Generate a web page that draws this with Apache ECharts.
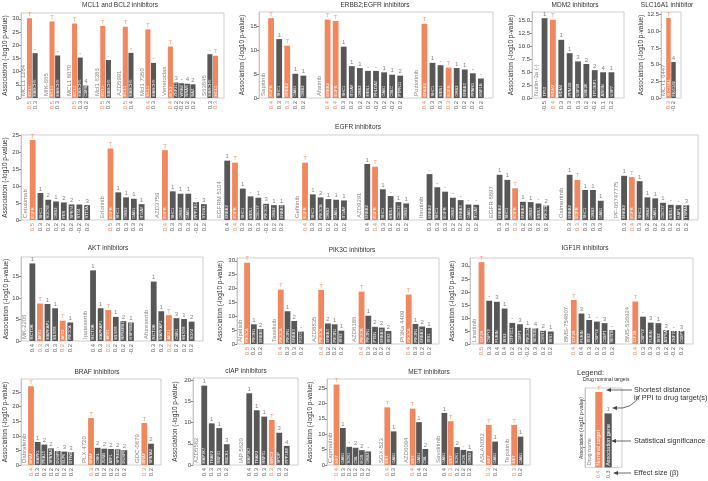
<!DOCTYPE html>
<html><head><meta charset="utf-8">
<script src="https://cdn.jsdelivr.net/npm/echarts@6/dist/echarts.min.js"></script>
<style>html,body{margin:0;padding:0;background:#fff}#c{width:708px;height:481px}</style>
</head><body><div id="c"></div>
<script>
// ---------------- DATA ----------------
// MCL1 and BCL2 inhibitors
const mclDrugs = ['MCL1 1284','MIK-665','MCL1 8070','Mcl1 6386','AZD5991','Mcl1 7350','Venetoclax','S63845'];
const mclGenes = [['MCL1','MARCH5'],['MCL1','MARCH5'],['MCL1','MARCH5','CBFB'],['MCL1','MARCH5'],['MCL1','MARCH5'],['MCL1','MARCH5'],['BCL2','ZNF217','WSB2','NRAS','BAX'],['MARCH5','MCL1']];
const mclValues = [[30.2,17.0],[29.0,16.1],[28.2,15.3,4.7],[27.3,14.4],[27.0,17.1],[26.0,13.3],[19.5,5.9,5.6,5.4,5.2],[16.6,16.0]];
const mclBeta = [['0.5','0.3'],['0.5','0.3'],['0.5','0.3','-0.2'],['0.5','0.3'],['0.5','0.4'],['0.4','0.3'],['0.4','-0.2','-0.2','0.2','0.2'],['0.3','0.3']];
const mclDist = [['T','-'],['T','-'],['T','-','4'],['T','-'],['T','-'],['T','-'],['T','3','-','4','2'],['-','T']];

// ERBB2;EGFR inhibitors
const erbDrugs = ['Sapitinib','Afatinib','Poziotinib'];
const erbGenes = [['EGFR','SHC1','ERBB2','GAB1','GRB2'],['ERBB2','EGFR','SHC1','ITGAV','GRB2','MEN1','PHLDA3','GAB1','CBLC','PTPN11'],['ERBB2','SHC1','MEN1','EGFR','GRB2','ERBB3','PPARG','HNF1B']];
const erbValues = [[16.8,12.4,11.0,5.1,4.7],[16.5,16.2,10.8,6.7,6.3,5.7,5.7,5.4,4.9,4.7],[15.6,7.4,6.9,6.4,6.3,6.0,5.2,4.1]];
const erbBeta = [['0.4','0.3','0.3','0.2','0.2'],['0.4','0.4','0.3','0.2','0.2','0.2','-0.2','0.2','-0.2','0.2'],['0.4','0.3','0.3','0.3','0.2','0.2','0.2','0.2']];
const erbDist = [['T','1','T','1','1'],['T','T','1','1','1','-','-','1','1','2'],['T','1','-','T','1','1','-','-']];

// MDM2 inhibitors
const mdmDrugs = ['Nutlin-3a (-)'];
const mdmGenes = [['TP53','MDM2','MDM4','PPM1D','USP28','UBE2K','TP53BP1','ATMIN','USP7']];
const mdmValues = [[15.5,15.2,11.3,8.7,7.1,6.6,5.4,5.0,5.0]];
const mdmBeta = [['-0.5','0.4','0.3','0.3','0.3','0.2','-0.2','0.1','0.2']];
const mdmDist = [['1','T','1','1','3','2','2','4','1']];

// SLC16A1 inhibitor
const slcDrugs = ['MCT1 6447'];
const slcGenes = [['SLC16A1','FBXO42']];
const slcValues = [[12.0,5.4]];
const slcBeta = [['0.3','-0.2']];
const slcDist = [['T','4']];

// EGFR inhibitors
const egfDrugs = ['Cetuximab','Erlotinib','AZD3759','EGFRM 5104','Gefitinib','AZD9291','Ibrutinib','EGFR 8897','Osimertinib','PF-06747775'];
const egfGenes = [
  ['EGFR','SHC1','SOCS5','GRB2','FES','SPRY4','STX4','STT3A'],
  ['EGFR','SHC1','GRB2','GAB1','ITGAV'],
  ['EGFR','SHC1','GRB2','GAB1','PPP1R14B','STUB1'],
  ['ERBB2','EGFR','SHC1','MEN1','CDC37','PIK3C3','GRB2','ERBB3'],
  ['EGFR','SHC1','PIK3CB','GRB2','GAB1','ITGAV'],
  ['ERBB2','EGFR','SHC1','MEN1','CDC37','GRB2'],
  ['ERBB2','SHC1','EGFR','GRB2','ERBB3','GAB1','ITGAV'],
  ['ERBB2','SHC1','EGFR','ERBB3','GRB2','MEN1','PIK3CB'],
  ['ERBB2','EGFR','SHC1','GRB2','GAB1'],
  ['ERBB2','EGFR','SHC1','GRB2','GAB1','CDC37','MEN1','HAP1','TSPAN6']];
const egfValues = [
  [23.7,8.0,6.0,5.5,5.2,4.6,4.6,4.4],
  [21.2,8.2,6.7,6.3,4.7],
  [20.7,8.5,7.8,7.8,5.3,4.7],
  [17.6,17.0,9.3,7.0,6.6,4.8,4.4,4.4],
  [17.0,7.6,6.7,6.2,6.0,5.8],
  [16.6,15.8,9.1,7.1,5.3,4.9],
  [13.6,9.7,8.4,6.6,5.9,4.6,4.5],
  [13.4,11.9,9.4,5.4,5.3,4.9,4.3],
  [13.4,11.9,8.9,8.9,5.7],
  [13.1,12.7,11.5,6.7,6.4,5.1,4.5,4.4,4.4]];
const egfBeta = [
  ['0.5','0.3','0.2','0.2','0.2','0.2','-0.2','0.2'],
  ['0.5','0.3','0.3','0.3','0.2'],
  ['0.4','0.3','0.3','0.3','-0.2','0.2'],
  ['0.4','0.4','0.3','0.2','0.3','-0.2','0.2','0.2'],
  ['0.4','0.3','0.3','0.2','0.2','0.2'],
  ['0.4','0.4','0.3','0.2','0.2','0.2'],
  ['0.3','0.3','0.3','0.2','0.2','0.2','0.2'],
  ['0.3','0.3','0.3','0.2','0.2','0.2','0.2'],
  ['0.3','0.3','0.3','0.3','0.3'],
  ['0.3','0.4','0.3','0.2','0.2','0.2','0.2','0.2','0.2']];
const egfDist = [
  ['T','1','2','1','2','2','-','3'],
  ['T','1','1','1','1'],
  ['T','1','1','1','-','3'],
  ['1','T','1','-','1','3','1','1'],
  ['T','1','2','1','1','1'],
  ['1','T','1','-','1','1'],
  ['-','-','-','-','-','-','-'],
  ['1','1','T','1','1','-','2'],
  ['1','T','1','1','1'],
  ['1','T','1','1','1','1','-','-','3']];

// AKT inhibitors
const aktDrugs = ['MK-2206','Ipatasertib','Afuresertib'];
const aktGenes = [['RICTOR','AKT1','MAPKAP1','MLST8','AKT2','PIK3CA'],['RICTOR','MAPKAP1','AKT1','MLST8','RPS6KB1','HSP90B1'],['RICTOR','MAPKAP1','AKT1','CBR1','MLST8','SOX4']];
const aktValues = [[18.0,8.7,8.6,7.6,4.7,4.3],[16.4,7.6,7.2,5.6,4.6,4.3],[13.8,6.9,6.0,5.3,5.1,4.5]];
const aktBeta = [['0.4','0.3','0.3','0.3','0.2','0.2'],['0.4','0.3','0.2','0.2','0.2','-0.2'],['0.3','0.2','0.2','0.2','0.2','0.2']];
const aktDist = [['1','T','1','1','T','1'],['1','1','T','1','2','1'],['1','1','T','3','1','2']];

// PIK3C inhibitors
const pikDrugs = ['Alpelisib','Taselisib','AZD8835','AZD8186','PI3Ka 4409'];
const pikGenes = [['PIK3CA','PIK3R1','ERBB3'],['PIK3CA','PIK3R1','ERBB3','FOXO3'],['PIK3CA','ERBB3','PIK3R1','IRS2'],['PIK3CB','PIK3R1','PTEN','ERBB3','IRS2'],['PIK3CA','PIK3R1','ERBB3','IRS1']];
const pikValues = [[29.3,7.1,5.4],[19.6,11.8,8.3,4.5],[19.5,7.4,7.1,4.8],[18.9,10.2,6.2,5.9,4.7],[17.8,7.2,6.3,5.8]];
const pikBeta = [['0.5','0.2','0.2'],['0.4','0.3','0.3','0.2'],['0.4','0.2','0.2','0.2'],['0.4','0.3','0.2','0.2','0.2'],['0.4','0.3','0.2','0.2']];
const pikDist = [['T','1','2'],['T','1','2','-'],['T','2','1','1'],['T','1','2','2','2'],['T','1','2','1']];

// IGF1R inhibitors
const igfDrugs = ['Linsitinib','BMS-754807','BMS-536924'];
const igfGenes = [['IGF1R','CNPY2','FURIN','IRS2','GTF3C1','CDIPT','PIK3C2A','SETDB1','CHST14','IRS1'],['IGF1R','FURIN','IRS2','CNPY2','CDIPT','SETDB1'],['IGF1R','CNPY2','FURIN','IRS2','ATP6AP1','ZNF706','CDIPT']];
const igfValues = [[31.4,16.6,16.2,13.6,8.1,7.6,6.2,6.0,5.1,4.8],[16.9,11.7,9.2,8.6,8.0,5.4],[16.3,10.5,8.2,8.0,5.3,5.0,5.0]];
const igfBeta = [['0.5','0.3','0.4','0.4','0.2','0.2','-0.2','0.3','0.2','0.2'],['0.4','0.4','0.3','0.2','0.3','0.2'],['0.4','0.3','0.3','0.3','0.2','-0.2','0.2']];
const igfDist = [['T','-','3','1','-','3','1','4','2','1'],['T','3','1','-','3','-'],['T','-','3','1','3','-','3']];

// BRAF inhibitors
const brfDrugs = ['Dabrafenib','PLX-4720','GDC-0879'];
const brfGenes = [['BRAF','MAPK1','PEA15','SPATA2','DUSP4','ELP6','DTWD1'],['BRAF','CRKL','JUNB','ATF1','SPRED1','DUSP6'],['BRAF','SPATA2']];
const brfValues = [[27.0,7.9,7.0,5.7,4.8,4.6,4.4],[16.1,5.9,5.6,5.5,5.4,5.1],[14.4,7.3]];
const brfBeta = [['0.4','0.3','0.2','0.2','0.2','0.2','0.2'],['0.3','0.3','0.2','0.2','0.2','0.2'],['0.3','0.2']];
const brfDist = [['T','1','2','2','-','3','3'],['T','2','2','2','2','2'],['T','2']];

// cIAP inhibitors
const iapDrugs = ['AZD5582','IAP 5620'];
const iapGenes = [['MAP3K7','TRAF2','RNF31','RBCK1'],['MAP3K7','TRAF2','RNF31','BIRC2','SPOP','PPP1R8']];
const iapValues = [[18.7,9.8,8.7,4.9],[16.9,12.9,11.4,10.6,7.6,4.5]];
const iapBeta = [['0.4','0.3','0.3','0.2'],['0.4','0.3','0.3','0.3','0.3','0.2']];
const iapDist = [['1','1','1','3'],['1','1','1','T','3','4']];

// MET inhibitors
const metDrugs = ['Capmatinib','SGX-523','AZD6094','Savolitinib','ASLAN002','Tepotinib'];
const metGenes = [['MET','GAB1','SOS1','CBL','HGS','GRB2'],['MET','GAB1'],['MET','GAB1','CBL'],['GAB1','MET','SOS1','HGS','GRB2'],['MET','GAB1'],['MET','GAB1']];
const metValues = [[26.1,12.0,5.9,5.6,4.8,4.4],[18.7,10.9],[18.3,13.9,5.2],[16.9,14.2,5.8,4.9,4.5],[13.0,7.6],[13.0,9.2]];
const metBeta = [['0.4','0.3','0.2','0.2','0.2','0.2'],['0.4','0.3'],['0.4','0.4','0.2'],['0.4','0.3','0.2','0.2','0.2'],['0.3','0.2'],['0.3','0.2']];
const metDist = [['T','1','-','2','2','-'],['T','1'],['T','1','2'],['1','T','2','-','1'],['T','1'],['T','1']];

// Legend example
const legDrugs = ['Drug name'];
const legGenes = [['Nominal target','Association gene']];
const legValues = [[9.5,6.8]];
const legBeta = [['0.4','0.3']];
const legDist = [['T','1']];

// tick labels
const ticks5to30 = [0,5,10,15,20,25,30];
const ticks5to15 = [0,5,10,15];
const ticks5to25 = [0,5,10,15,20,25];
const ticks5to20 = [0,5,10,15,20];
const ticksHalf15 = [0,2.5,5,7.5,10,12.5,15];
const ticksHalf125 = [0,2.5,5,7.5,10,12.5];
const ticksLegend = [2.5,5.5,8.5];

// ---------------- LAYOUT / STYLE ----------------
const FONT = '"Liberation Sans", Arial, sans-serif';
const ORANGE = '#F0875F', DARK = '#575757', GRAY = '#666666';
const YNAME = 'Association (-log10 p-value)';

const panels = [
  {d:[mclDrugs,mclGenes,mclValues,mclBeta,mclDist], left:21, top:13, width:203, height:85, max:32.2, ticks:ticks5to30, nx:15.5},
  {d:[erbDrugs,erbGenes,erbValues,erbBeta,erbDist], left:259, top:12, width:234, height:86, max:18.1, ticks:ticks5to15, nx:17},
  {d:[mdmDrugs,mdmGenes,mdmValues,mdmBeta,mdmDist], left:532, top:12, width:92, height:86, max:16.7, ticks:ticksHalf15, dec:1, nx:21},
  {d:[slcDrugs,slcGenes,slcValues,slcBeta,slcDist], left:661, top:12, width:20, height:86, max:12.9, ticks:ticksHalf125, dec:1, nx:20},
  {d:[egfDrugs,egfGenes,egfValues,egfBeta,egfDist], left:21, top:135, width:677, height:85, max:25.2, ticks:ticks5to25, nx:15.5},
  {d:[aktDrugs,aktGenes,aktValues,aktBeta,aktDist], left:21, top:257, width:182, height:84, max:19.5, ticks:ticks5to15, nx:15},
  {d:[pikDrugs,pikGenes,pikValues,pikBeta,pikDist], left:237, top:258, width:202, height:86, max:31, ticks:ticks5to30, nx:16.5},
  {d:[igfDrugs,igfGenes,igfValues,igfBeta,igfDist], left:470, top:258, width:223, height:86, max:33, ticks:ticks5to30, nx:18},
  {d:[brfDrugs,brfGenes,brfValues,brfBeta,brfDist], left:21, top:379, width:140, height:86, max:29.5, ticks:ticks5to25, nx:15.5},
  {d:[iapDrugs,iapGenes,iapValues,iapBeta,iapDist], left:193, top:378, width:105, height:87, max:20.5, ticks:ticks5to20, nx:17.5},
  {d:[metDrugs,metGenes,metValues,metBeta,metDist], left:327, top:379, width:203, height:86, max:27.9, ticks:ticks5to25, nx:16.5},
  {d:[legDrugs,legGenes,legValues,legBeta,legDist], left:585, top:388, width:37, height:80, max:10, ticks:ticksLegend, legend:true, nx:3.5}
];

function txt(x,y,text,size,align,color,rot){
  return {type:'text', x:x, y:y, rotation:rot||0, silent:true, z:10,
    style:{text:text, fontSize:size, fontFamily:FONT, fill:color||'#333', align:align||'center', verticalAlign:'middle'}};
}

const grids=[], xAxes=[], yAxes=[], series=[], yNames=[];
panels.forEach((L,k)=>{
  const [drugs,genes,values,beta,dist] = L.d;
  const cats=[], labels=[], bars=[], dists=[], names=[];
  let i=0;
  drugs.forEach((drug,d)=>{
    cats.push(String(i)); labels.push(''); bars.push('-');
    names.push({value:[i,0], label:{formatter:drug}}); i++;
    values[d].forEach((v,b)=>{
      const t = dist[d][b]==='T';
      cats.push(String(i)); labels.push((t?'{o|':'{g|')+beta[d][b]+'}');
      bars.push({value:v, name:genes[d][b], itemStyle:{color:t?ORANGE:DARK}});
      dists.push({value:[i,v], label:{formatter:dist[d][b], color:t?ORANGE:GRAY}});
      i++;
    });
    cats.push(String(i)); labels.push(''); bars.push('-'); i++;
  });
  const slot = L.width / cats.length;
  const bw = L.legend ? 7.2 : Math.min(5.8, slot*0.9);
  const lf = L.legend ? 5.5 : 6;
  grids.push({left:L.left, top:L.top, width:L.width, height:L.height, show:true, borderColor:'#cfcfcf'});
  xAxes.push({gridIndex:k, type:'category', data:cats, axisLine:{show:false}, axisTick:{show:false}, splitLine:{show:false},
    axisLabel:{interval:0, rotate:90, margin:3, fontSize:5.5, fontFamily:FONT, formatter:(v)=>labels[+v],
      rich:{o:{color:ORANGE, fontSize:lf, fontFamily:FONT}, g:{color:GRAY, fontSize:lf, fontFamily:FONT}}}});
  yAxes.push({gridIndex:k, type:'value', min:0, max:L.max, splitLine:{show:false},
    axisLine:{show:true, lineStyle:{color:'#c8c8c8'}},
    axisTick:{show:true, length:2, lineStyle:{color:'#888'}, customValues:L.ticks},
    axisLabel:{show:!L.legend, fontSize:6, margin:2, color:'#444', fontFamily:FONT, customValues:L.ticks, hideOverlap:false,
      formatter:(v)=> L.dec ? Number(v).toFixed(1) : String(v)}});
  yNames.push(txt(L.left - L.nx, L.top + L.height/2, YNAME, L.legend ? 5 : 6.5, 'center', '#333', Math.PI/2));
  series.push({type:'bar', xAxisIndex:k, yAxisIndex:k, data:bars, barWidth:bw, silent:true,
    label:{show:true, position:'insideBottom', rotate:90, align:'left', verticalAlign:'middle', distance:1.5,
      fontSize: L.legend ? 5.5 : 4, color:'#fff', fontFamily:FONT, formatter:'{b}'}});
  series.push({type:'scatter', xAxisIndex:k, yAxisIndex:k, data:dists, symbolSize:0.1, silent:true,
    itemStyle:{color:'rgba(0,0,0,0)'}, label:{show:true, position:'top', distance:1, fontSize:6, fontFamily:FONT}});
  series.push({type:'scatter', xAxisIndex:k, yAxisIndex:k, data:names, symbolSize:0.1, silent:true,
    itemStyle:{color:'rgba(0,0,0,0)'}, label:{show:true, position:'top', rotate:90, align:'left', verticalAlign:'middle',
      distance:2, fontSize: L.legend ? 5.5 : 6, color:'#666', fontFamily:FONT}});
});

const AC = '#444';
const graphic = yNames.concat([
  txt(120,5,'MCL1 and BCL2 inhibitors',6.5),
  txt(375,5,'ERBB2;EGFR inhibitors',6.5),
  txt(575,5,'MDM2 inhibitors',6.5),
  txt(667,5,'SLC16A1 inhibitor',6.5),
  txt(358,127,'EGFR inhibitors',6.5),
  txt(108,248,'AKT inhibitors',6.5),
  txt(352,250,'PIK3C inhibitors',6.5),
  txt(585,248,'IGF1R inhibitors',6.5),
  txt(97,372,'BRAF inhibitors',6.5),
  txt(246,371,'cIAP inhibitors',6.5),
  txt(429,372,'MET inhibitors',6.5),
  txt(577,373,'Legend:',7.5,'left'),
  txt(583,380,'Drug nominal targets',5,'left'),
  txt(634,390,'Shortest distance',7.3,'left'),
  txt(634,398,'in PPI to drug target(s)',7.3,'left'),
  txt(634,441,'Statistical significance',7.3,'left'),
  txt(634,473,'Effect size (β)',7.3,'left'),
  {type:'line', silent:true, shape:{x1:632,y1:390,x2:609,y2:390}, style:{stroke:AC, lineWidth:0.8}},
  {type:'polygon', silent:true, shape:{points:[[606,390],[611,388],[611,392]]}, style:{fill:AC}},
  {type:'bezierCurve', silent:true, shape:{x1:640,y1:395,cpx1:632,cpy1:410,x2:615,y2:408}, style:{stroke:AC, lineWidth:0.8, fill:null}},
  {type:'polygon', silent:true, shape:{points:[[612,408],[617,406],[617,410]]}, style:{fill:AC}},
  {type:'line', silent:true, shape:{x1:631,y1:441,x2:614,y2:441}, style:{stroke:AC, lineWidth:0.8}},
  {type:'polygon', silent:true, shape:{points:[[611,441],[616,439],[616,443]]}, style:{fill:AC}},
  {type:'line', silent:true, shape:{x1:631,y1:473,x2:616,y2:473}, style:{stroke:AC, lineWidth:0.8}},
  {type:'polygon', silent:true, shape:{points:[[613,473],[618,471],[618,475]]}, style:{fill:AC}}
]);

const chart = echarts.init(document.getElementById('c'), null, {renderer:'canvas'});
chart.setOption({animation:false, backgroundColor:'#fff', textStyle:{fontFamily:FONT},
  grid:grids, xAxis:xAxes, yAxis:yAxes, series:series, graphic:graphic});
</script>
</body></html>
